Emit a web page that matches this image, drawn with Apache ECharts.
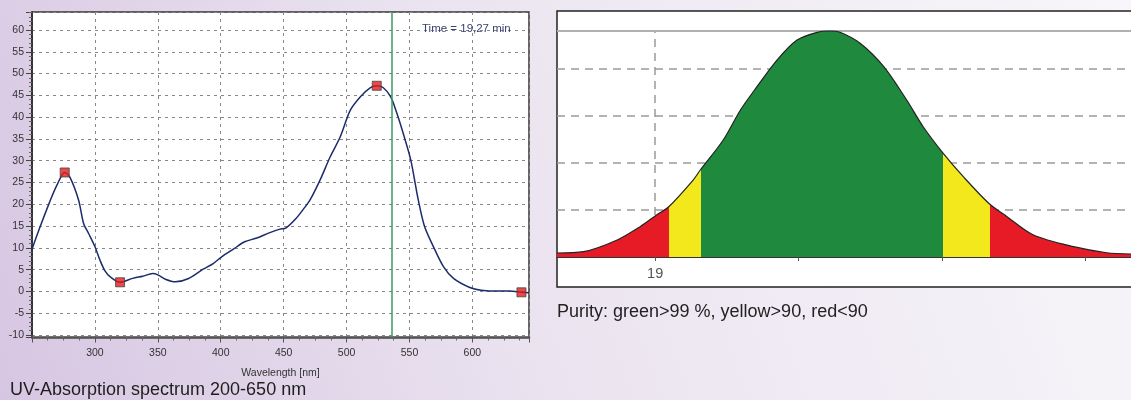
<!DOCTYPE html>
<html><head><meta charset="utf-8">
<script src="https://cdn.jsdelivr.net/npm/echarts@6/dist/echarts.min.js"></script>
<style>html,body{margin:0;padding:0;overflow:hidden}#c{width:1131px;height:400px}</style>
</head><body><div id="c"></div>
<script>
// ---- UV spectrum (left) ----
const wavelengths = [250,256,264,270,276,280,287,291,295,300,304,308,312,320,330,338,346,350,356,364,374,386,394,401,410,419,428,439,447,452,460,466,471,479,487,495,503,511,519,524,529,535,540,545,551,557,562,569,577,585,598,607,620,630,639,645];
const absorbance = [9.7,14.5,20.5,24.5,27.3,26.3,21.0,15.6,13.3,10.3,7.2,4.7,3.4,2.1,3.0,3.5,4.1,3.8,2.8,2.2,2.9,5.1,6.4,8.0,9.7,11.4,12.2,13.5,14.3,14.6,16.8,19.0,21.0,25.6,30.9,35.5,41.6,44.7,46.8,47.2,46.8,44.7,40.9,36.3,30.2,21.0,14.9,10.3,5.7,3.0,0.9,0.3,0.1,0.1,-0.2,-0.3];
const peakWavelengths = [276, 320, 524, 639];
const peakAbsorbance = [27.3, 2.1, 47.2, -0.2];
const cursorWavelength = [536];
const timeText = 'Time = 19,27 min';
const leftTitle = 'UV-Absorption spectrum 200-650 nm';
const xAxisTitle = 'Wavelength [nm]';

// ---- Peak purity (right) ----
const purityTime = [18.863,18.900,18.947,18.979,19.002,19.019,19.053,19.063,19.095,19.119,19.142,19.170,19.198,19.226,19.244,19.258,19.286,19.319,19.351,19.374,19.402,19.430,19.465,19.491,19.528,19.584,19.630,19.664];
const puritySignal = [0.085,0.113,0.362,0.645,0.894,1.070,1.638,1.851,2.489,3.128,3.623,4.191,4.617,4.781,4.809,4.781,4.547,4.049,3.340,2.772,2.206,1.709,1.150,0.858,0.468,0.219,0.091,0.064];
const purityBounds = [19.019, 19.064, 19.402, 19.467];
const purityColors = ['#e61b26', '#f2e81c', '#1f8a3d', '#f2e81c', '#e61b26'];
const purityTicks = [19, 19.2, 19.4, 19.6];
const purityTickLabels = [19];
const purityGridTimes = [19];
const purityGridLevels = [1, 2, 3, 4];
const purityText = 'Purity: green>99 %, yellow>90, red<90';

const FONT = '"Liberation Sans", Arial, sans-serif';
const chart = echarts.init(document.getElementById('c'), null, {renderer: 'canvas'});

const pieces = [
  {lt: purityBounds[0], color: purityColors[0]},
  {gte: purityBounds[0], lt: purityBounds[1], color: purityColors[1]},
  {gte: purityBounds[1], lt: purityBounds[2], color: purityColors[2]},
  {gte: purityBounds[2], lt: purityBounds[3], color: purityColors[3]},
  {gte: purityBounds[3], color: purityColors[4]}
];
const purityPeak = Math.max(...puritySignal);

chart.setOption({
  animation: false,
  backgroundColor: new echarts.graphic.LinearGradient(0, 1, 1, 0, [
    {offset: 0, color: '#d7c6e2'},
    {offset: 0.45, color: '#ebe4f0'},
    {offset: 1, color: '#f8f6fa'}
  ]),
  textStyle: {fontFamily: FONT},
  grid: [
    {left: 32, top: 12, width: 497, height: 325.5, show: true, backgroundColor: '#fff', borderColor: '#333', borderWidth: 1.5, outerBoundsMode: 'none'},
    {left: 557, top: 30, width: 574, height: 227, show: false, outerBoundsMode: 'none'}
  ],
  xAxis: [
    {
      gridIndex: 0, type: 'value', min: 250, max: 645, interval: 50,
      axisLine: {onZero: false, lineStyle: {color: '#555', width: 2.5}},
      axisTick: {show: true, length: 5, lineStyle: {color: '#555'}},
      minorTick: {show: true, splitNumber: 4, length: 3, lineStyle: {color: '#666'}},
      axisLabel: {showMinLabel: false, showMaxLabel: false, fontSize: 10.5, color: '#333', margin: 10},
      splitLine: {show: true, lineStyle: {color: '#888', type: [3, 4], width: 1}},
      name: xAxisTitle, nameLocation: 'middle', nameGap: 30,
      nameTextStyle: {fontSize: 10.5, color: '#333'}
    },
    {
      gridIndex: 1, type: 'value', min: 18.863, max: 19.664,
      axisLine: {onZero: false, lineStyle: {color: '#333', width: 1}},
      axisTick: {show: true, customValues: purityTicks, length: 4, lineStyle: {color: '#555'}},
      axisLabel: {customValues: purityTickLabels, formatter: v => String(v), fontSize: 14.5, color: '#555', margin: 9},
      splitLine: {show: false}
    }
  ],
  yAxis: [
    {
      gridIndex: 0, type: 'value', min: -10.57, max: 64.13, splitNumber: 15, minInterval: 5, maxInterval: 5,
      axisLine: {show: true, onZero: false, lineStyle: {color: '#222', width: 1.5}},
      axisTick: {show: true, length: 6, lineStyle: {color: '#444'}},
      minorTick: {show: true, splitNumber: 5, length: 3, lineStyle: {color: '#666'}},
      axisLabel: {showMinLabel: false, showMaxLabel: false, fontSize: 10.5, color: '#333', margin: 8},
      splitLine: {show: true, lineStyle: {color: '#888', type: [3, 4], width: 1}}
    },
    {
      gridIndex: 1, type: 'value', min: 0, max: 4.83,
      axisLine: {show: false}, axisTick: {show: false}, axisLabel: {show: false}, splitLine: {show: false}
    }
  ],
  visualMap: [{
    type: 'piecewise', show: false, seriesIndex: 3, dimension: 0, pieces: pieces
  }],
  series: [
    {
      type: 'line', xAxisIndex: 0, yAxisIndex: 0,
      data: wavelengths.map((w, i) => [w, absorbance[i]]),
      smooth: 0.3, symbol: 'none',
      lineStyle: {color: '#1c2b6b', width: 1.5},
      markLine: {
        silent: true, symbol: ['none', 'none'], label: {show: false},
        lineStyle: {color: '#3c9a60', width: 1.5, type: 'solid'},
        data: cursorWavelength.map(v => ({xAxis: v}))
      },
      z: 3
    },
    {
      type: 'scatter', xAxisIndex: 0, yAxisIndex: 0,
      data: peakWavelengths.map((w, i) => [w, peakAbsorbance[i]]),
      symbol: 'rect', symbolSize: 9,
      itemStyle: {color: '#e41c1c', borderColor: '#444', borderWidth: 1},
      z: 5
    },
    {
      type: 'line', xAxisIndex: 1, yAxisIndex: 1, data: [], z: 1,
      markLine: {
        silent: true, z: 1, symbol: ['none', 'none'], label: {show: false},
        lineStyle: {color: '#9a9a9a', type: [8, 6], width: 1.5},
        data: [
          ...purityGridTimes.map(v => ({xAxis: v})),
          ...purityGridLevels.map(v => ({yAxis: v})),
          {yAxis: purityPeak, lineStyle: {type: 'solid', color: '#b0b0b0', width: 2}}
        ]
      }
    },
    {
      type: 'line', xAxisIndex: 1, yAxisIndex: 1,
      data: purityTime.map((t, i) => [t, puritySignal[i]]),
      smooth: 0.3, symbol: 'none',
      lineStyle: {color: '#222', width: 1.2},
      areaStyle: {opacity: 1},
      z: 3
    }
  ],
  graphic: [
    {type: 'rect', z: -10, shape: {x: 557, y: 11, width: 620, height: 276}, style: {fill: '#fff', stroke: '#222', lineWidth: 1.5}},
    {type: 'text', z: 10, style: {text: timeText, x: 422, y: 29, font: '11.5px ' + FONT, fill: '#3b4272', verticalAlign: 'middle'}},
    {type: 'text', z: 10, style: {text: leftTitle, x: 10, y: 390, font: '18px ' + FONT, fill: '#1e1e1e', verticalAlign: 'middle'}},
    {type: 'text', z: 10, style: {text: purityText, x: 557, y: 312, font: '18px ' + FONT, fill: '#222', verticalAlign: 'middle'}}
  ]
});
</script>
</body></html>
